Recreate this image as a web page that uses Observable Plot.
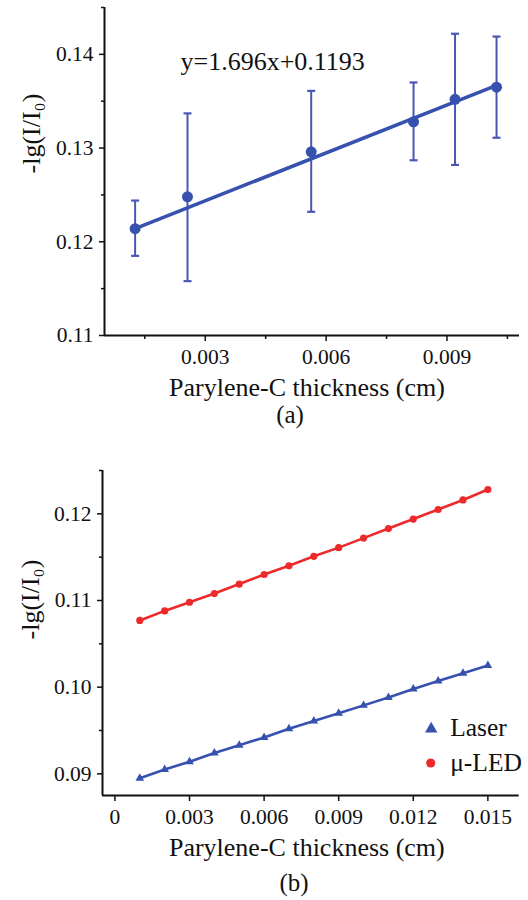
<!DOCTYPE html>
<html>
<head>
<meta charset="utf-8">
<script src="https://cdn.jsdelivr.net/npm/d3@7"></script>
<script src="https://cdn.jsdelivr.net/npm/@observablehq/plot@0.6"></script>
<style>
  html, body { margin: 0; padding: 0; background: #fff; }
  #wrap { position: relative; width: 528px; height: 900px; overflow: hidden; font-family: "Liberation Serif", "Times New Roman", serif; color: #111; }
  .panel { position: absolute; left: 0; }
  .panel svg, .panel svg text { font-family: "Liberation Serif", "Times New Roman", serif !important; }
  .cap { position: absolute; width: 200px; text-align: center; font-size: 25px; line-height: 30px; }
</style>
</head>
<body>
<div id="wrap">
  <div id="pa" class="panel" style="top:0px"></div>
  <div class="cap" style="left:190px; top:400px">(a)</div>
  <div id="pb" class="panel" style="top:450px"></div>
  <div class="cap" style="left:194px; top:868px">(b)</div>
</div>
<script>
// ---------- Panel (a) data ----------
const aThickness = [0.00126, 0.00256, 0.00563, 0.00817, 0.0092, 0.01023];
const aValue     = [0.1214, 0.1248, 0.1296, 0.1328, 0.1352, 0.1365];
const aErrHigh   = [0.1244, 0.1337, 0.1361, 0.1370, 0.1422, 0.1419];
const aErrLow    = [0.1185, 0.1158, 0.1232, 0.1287, 0.1282, 0.1311];
const aFitX      = [0.00126, 0.01023];
const aFitY      = [0.1214, 0.1367];
const aEquation  = "y=1.696x+0.1193";
const aXTicks    = [0.003, 0.006, 0.009];
const aXMinor    = [0.0015, 0.0045, 0.0075, 0.0105];
const aYTicks    = [0.11, 0.12, 0.13, 0.14];
const aYMinor    = [0.115, 0.125, 0.135, 0.145];

// ---------- Panel (b) data ----------
const bThickness = [0.001, 0.002, 0.003, 0.004, 0.005, 0.006, 0.007, 0.008, 0.009, 0.010, 0.011, 0.012, 0.013, 0.014, 0.015];
const bLED       = [0.1077, 0.1088, 0.1098, 0.1108, 0.1119, 0.1130, 0.1140, 0.1151, 0.1161, 0.1172, 0.1183, 0.1194, 0.1205, 0.1216, 0.1228];
const bLaser     = [0.0895, 0.0905, 0.0914, 0.0924, 0.0933, 0.0942, 0.0952, 0.0961, 0.0970, 0.0979, 0.0988, 0.0998, 0.1007, 0.1016, 0.1025];
const bXTicks    = [0, 0.003, 0.006, 0.009, 0.012, 0.015];
const bYTicks    = [0.09, 0.10, 0.11, 0.12];
const bYMinor    = [0.095, 0.105, 0.115, 0.125];
const seriesNames = ["Laser", "μ-LED"];

const xLabel = "Parylene-C thickness (cm)";
const yLabel = "-lg(I/I\u2080)";

const BLUE = "#3651ae";
const EBLUE = "#4a56b6";
const RED = "#ec2a2c";
const FONT = "\"Liberation Serif\", \"Times New Roman\", serif";

const capSymbol = { draw(ctx) { ctx.moveTo(-4, 0); ctx.lineTo(4, 0); } };

// ---------- Panel (a) ----------
const aRows = aThickness.map((x, i) => ({x, y: aValue[i], hi: aErrHigh[i], lo: aErrLow[i]}));
const aFit = aFitX.map((x, i) => ({x, y: aFitY[i]}));
const aXDomain = [0.0005, 0.0108];
const aYDomain = [0.11, 0.145];

const plotA = Plot.plot({
  width: 528, height: 400,
  marginTop: 7, marginLeft: 104, marginRight: 9, marginBottom: 65,
  style: {fontFamily: FONT, color: "#111", background: "transparent", overflow: "visible"},
  x: {domain: aXDomain, label: null},
  y: {domain: aYDomain, label: null},
  marks: [
    Plot.axisX({ticks: aXTicks, tickSize: 6, tickPadding: 7, tickFormat: d => d.toFixed(3), fontSize: 21.5, strokeWidth: 1.5, label: null}),
    Plot.axisX({ticks: aXMinor, tickSize: 4, tickFormat: () => "", strokeWidth: 1.5, label: null}),
    Plot.axisY({ticks: aYTicks, tickSize: 5, tickPadding: 6, tickFormat: d => d.toFixed(2), fontSize: 21.5, strokeWidth: 1.5, label: null}),
    Plot.axisY({ticks: aYMinor, tickSize: 3, tickFormat: () => "", strokeWidth: 1.5, label: null}),
    Plot.ruleX([aXDomain[0]], {stroke: "#111", strokeWidth: 2}),
    Plot.ruleY([aYDomain[0]], {stroke: "#111", strokeWidth: 2}),
    Plot.ruleX(aRows, {x: "x", y1: "lo", y2: "hi", stroke: EBLUE, strokeWidth: 2}),
    Plot.dot(aRows, {x: "x", y: "hi", symbol: capSymbol, stroke: EBLUE, strokeWidth: 2.2}),
    Plot.dot(aRows, {x: "x", y: "lo", symbol: capSymbol, stroke: EBLUE, strokeWidth: 2.2}),
    Plot.line(aFit, {x: "x", y: "y", stroke: BLUE, strokeWidth: 3.5}),
    Plot.dot(aRows, {x: "x", y: "y", r: 5.5, fill: BLUE}),
    Plot.text([aEquation], {frameAnchor: "top-left", dx: 76, dy: 54.5, textAnchor: "start", lineAnchor: "middle", fontSize: 26, fill: "#111"}),
    Plot.text([xLabel], {frameAnchor: "bottom", dx: -5, dy: 52, lineAnchor: "middle", fontSize: 26, fill: "#111"}),
    Plot.text([yLabel], {frameAnchor: "left", dx: -73, dy: 2, rotate: -90, lineAnchor: "middle", fontSize: 26, fill: "#111"})
  ]
});
document.getElementById("pa").appendChild(plotA);

// ---------- Panel (b) ----------
const bRows = [];
bThickness.forEach((x, i) => {
  bRows.push({x, y: bLaser[i], s: seriesNames[0]});
});
bThickness.forEach((x, i) => {
  bRows.push({x, y: bLED[i], s: seriesNames[1]});
});
const bXDomain = [-0.0005, 0.01626];
const bYDomain = [0.0875, 0.125];

const plotB = Plot.plot({
  width: 528, height: 415,
  marginTop: 20, marginLeft: 102, marginRight: 9.3, marginBottom: 70,
  style: {fontFamily: FONT, color: "#111", background: "transparent", overflow: "visible"},
  x: {domain: bXDomain, label: null},
  y: {domain: bYDomain, label: null},
  color: {domain: seriesNames, range: [BLUE, RED]},
  marks: [
    Plot.axisX({ticks: bXTicks, tickSize: 6, tickPadding: 7, tickFormat: d => d === 0 ? "0" : d.toFixed(3), fontSize: 21.5, strokeWidth: 1.5, label: null}),
    Plot.axisY({ticks: bYTicks, tickSize: 5, tickPadding: 6, tickFormat: d => d.toFixed(2), fontSize: 21.5, strokeWidth: 1.5, label: null}),
    Plot.axisY({ticks: bYMinor, tickSize: 3, tickFormat: () => "", strokeWidth: 1.5, label: null}),
    Plot.ruleX([bXDomain[0]], {stroke: "#111", strokeWidth: 2}),
    Plot.ruleY([bYDomain[0]], {stroke: "#111", strokeWidth: 2}),
    Plot.line(bRows, {x: "x", y: "y", z: "s", stroke: "s", strokeWidth: 2.6}),
    Plot.dot(bRows.filter(d => d.s === seriesNames[0]), {x: "x", y: "y", symbol: "triangle", r: 3.2, fill: BLUE}),
    Plot.dot(bRows.filter(d => d.s === seriesNames[1]), {x: "x", y: "y", symbol: "circle", r: 3.6, fill: RED}),
    // legend
    Plot.dot([seriesNames[0]], {frameAnchor: "bottom-right", dx: -88, dy: -66.5, symbol: "triangle", r: 4.6, fill: BLUE}),
    Plot.dot([seriesNames[1]], {frameAnchor: "bottom-right", dx: -88.5, dy: -32.5, symbol: "circle", r: 4.6, fill: RED}),
    Plot.text([seriesNames[0]], {frameAnchor: "bottom-right", dx: -69, dy: -68, textAnchor: "start", lineAnchor: "middle", fontSize: 25.5, fill: "#111"}),
    Plot.text([seriesNames[1]], {frameAnchor: "bottom-right", dx: -69, dy: -33, textAnchor: "start", lineAnchor: "middle", fontSize: 25.5, fill: "#111"}),
    Plot.text([xLabel], {frameAnchor: "bottom", dx: -4, dy: 52, lineAnchor: "middle", fontSize: 26, fill: "#111"}),
    Plot.text([yLabel], {frameAnchor: "left", dx: -72, dy: 6.5, rotate: -90, lineAnchor: "middle", fontSize: 26, fill: "#111"})
  ]
});
document.getElementById("pb").appendChild(plotB);
</script>
</body>
</html>
